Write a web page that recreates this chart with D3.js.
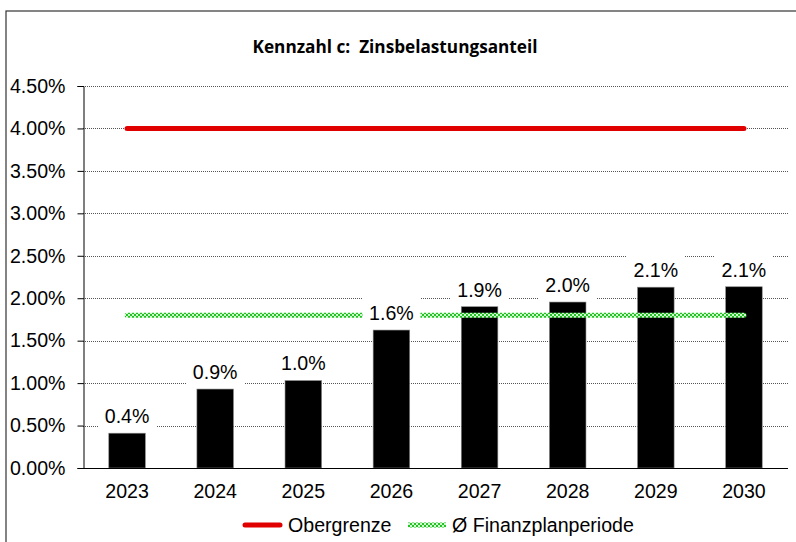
<!DOCTYPE html>
<html>
<head>
<meta charset="utf-8">
<script src="https://cdn.jsdelivr.net/npm/d3@7"></script>
<style>
  body { margin: 0; background: #fff; }
  svg { display: block; }
</style>
</head>
<body>
<div id="chart"></div>
<script>
const width = 796
const height = 542

// Daten
const jahre = ["2023", "2024", "2025", "2026", "2027", "2028", "2029", "2030"]
const anteil = [0.41, 0.93, 1.03, 1.625, 1.9, 1.955, 2.13, 2.135]
const labels = ["0.4%", "0.9%", "1.0%", "1.6%", "1.9%", "2.0%", "2.1%", "2.1%"]
const obergrenze = [4.0, 4.0, 4.0, 4.0, 4.0, 4.0, 4.0, 4.0]
const durchschnitt = [1.8, 1.8, 1.8, 1.8, 1.8, 1.8, 1.8, 1.8]
const yTicks = [0, 0.5, 1, 1.5, 2, 2.5, 3, 3.5, 4, 4.5]

const margin = {top: 86, left: 83, right: 8, bottom: 74}
const schrift = "'Liberation Sans', Arial, sans-serif"
const groesse = "19.6px"

const svg = d3.select("#chart").append("svg")
    .attr("width", width)
    .attr("height", height)

// Muster für die Durchschnittslinie
const defs = svg.append("defs")
const pat = defs.append("pattern")
    .attr("id", "karo")
    .attr("width", 4).attr("height", 4)
    .attr("patternUnits", "userSpaceOnUse")
pat.append("rect").attr("width", 4).attr("height", 4).attr("fill", "#d2f5d2")
pat.append("rect").attr("width", 2).attr("height", 2).attr("fill", "#22c422")
pat.append("rect").attr("x", 2).attr("y", 2).attr("width", 2).attr("height", 2).attr("fill", "#22c422")

// Rahmen
svg.append("rect")
    .attr("x", 6).attr("y", 11)
    .attr("width", width + 10).attr("height", height + 10)
    .attr("fill", "none")
    .attr("stroke", "#333")
    .attr("stroke-width", 1.2)

svg.append("text")
    .attr("x", 395).attr("y", 53)
    .attr("text-anchor", "middle")
    .style("font-family", "'Open Sans', sans-serif")
    .style("font-weight", "bold")
    .style("font-size", "17.2px")
    .style("white-space", "pre")
    .text("Kennzahl c:  Zinsbelastungsanteil")

const x = d3.scaleBand()
    .domain(jahre)
    .range([margin.left, width - margin.right])
    .paddingInner(0.585)
    .paddingOuter(0.2925)

const xc = d => x(d) + x.bandwidth() / 2

const y = d3.scaleLinear()
    .domain([0, 4.5])
    .range([height - margin.bottom, margin.top])

// Gitterlinien
svg.append("g")
    .selectAll("line")
    .data(yTicks.slice(1))
    .join("line")
    .attr("x1", margin.left).attr("x2", width - margin.right)
    .attr("y1", d => Math.round(y(d)) + 0.5).attr("y2", d => Math.round(y(d)) + 0.5)
    .attr("stroke", "#555")
    .attr("stroke-width", 1)
    .attr("stroke-dasharray", "1,1")

// Y-Achse
const yAxis = svg.append("g")
    .attr("transform", `translate(${margin.left + 0.5},0)`)
    .call(d3.axisLeft(y).tickValues(yTicks).tickSize(6).tickPadding(12)
        .tickFormat(d => d.toFixed(2) + "%"))
yAxis.select(".domain").attr("stroke", "#000")
yAxis.selectAll(".tick line").attr("stroke", "#000")
yAxis.selectAll("text")
    .style("font-family", schrift)
    .style("font-size", groesse)
    .attr("fill", "#000")

// Balken
svg.append("g")
    .selectAll("rect")
    .data(jahre)
    .join("rect")
    .attr("x", d => x(d))
    .attr("width", x.bandwidth())
    .attr("y", (d, i) => y(anteil[i]))
    .attr("height", (d, i) => y(0) - y(anteil[i]))
    .attr("fill", "#000")
    .attr("stroke", "#888")
    .attr("stroke-width", 0.6)

// Linien
const linie = d3.line()
    .x(d => xc(d.jahr))
    .y(d => y(d.wert))

svg.append("path")
    .datum(jahre.map((j, i) => ({jahr: j, wert: obergrenze[i]})))
    .attr("d", linie)
    .attr("fill", "none")
    .attr("stroke", "#e00000")
    .attr("stroke-width", 5)
    .attr("stroke-linecap", "round")

svg.append("path")
    .datum(jahre.map((j, i) => ({jahr: j, wert: durchschnitt[i]})))
    .attr("d", linie)
    .attr("fill", "none")
    .attr("stroke", "url(#karo)")
    .attr("stroke-width", 5)
    .attr("stroke-linecap", "round")

// X-Achse
const xAxis = svg.append("g")
    .attr("transform", `translate(0,${y(0) + 0.5})`)
    .call(d3.axisBottom(x).tickSize(0).tickPadding(16))
xAxis.select(".domain").attr("stroke", "#000").attr("d", `M${margin.left},0H${width - margin.right}`)
xAxis.selectAll("text")
    .style("font-family", schrift)
    .style("font-size", groesse)
    .attr("fill", "#000")

// Datenbeschriftungen
const lab = svg.append("g")
    .selectAll("g")
    .data(jahre)
    .join("g")
    .attr("transform", (d, i) => `translate(${xc(d)},${y(anteil[i]) - 17})`)
lab.append("rect")
    .attr("x", -29).attr("y", -16)
    .attr("width", 58).attr("height", 30)
    .attr("fill", "#fff")
lab.append("text")
    .attr("text-anchor", "middle")
    .attr("dy", "0.35em")
    .style("font-family", schrift)
    .style("font-size", groesse)
    .text((d, i) => labels[i])

// Legende
const legende = svg.append("g").attr("transform", "translate(0,525)")
legende.append("line")
    .attr("x1", 245).attr("x2", 280)
    .attr("stroke", "#e00000").attr("stroke-width", 5).attr("stroke-linecap", "round")
legende.append("text")
    .attr("x", 288).attr("dy", "0.35em")
    .style("font-family", schrift)
    .style("font-size", groesse)
    .text("Obergrenze")
legende.append("rect")
    .attr("x", 408).attr("y", -2.5).attr("width", 38).attr("height", 5)
    .attr("fill", "url(#karo)")
legende.append("text")
    .attr("x", 452).attr("dy", "0.35em")
    .style("font-family", schrift)
    .style("font-size", groesse)
    .text("Ø Finanzplanperiode")
</script>
</body>
</html>
